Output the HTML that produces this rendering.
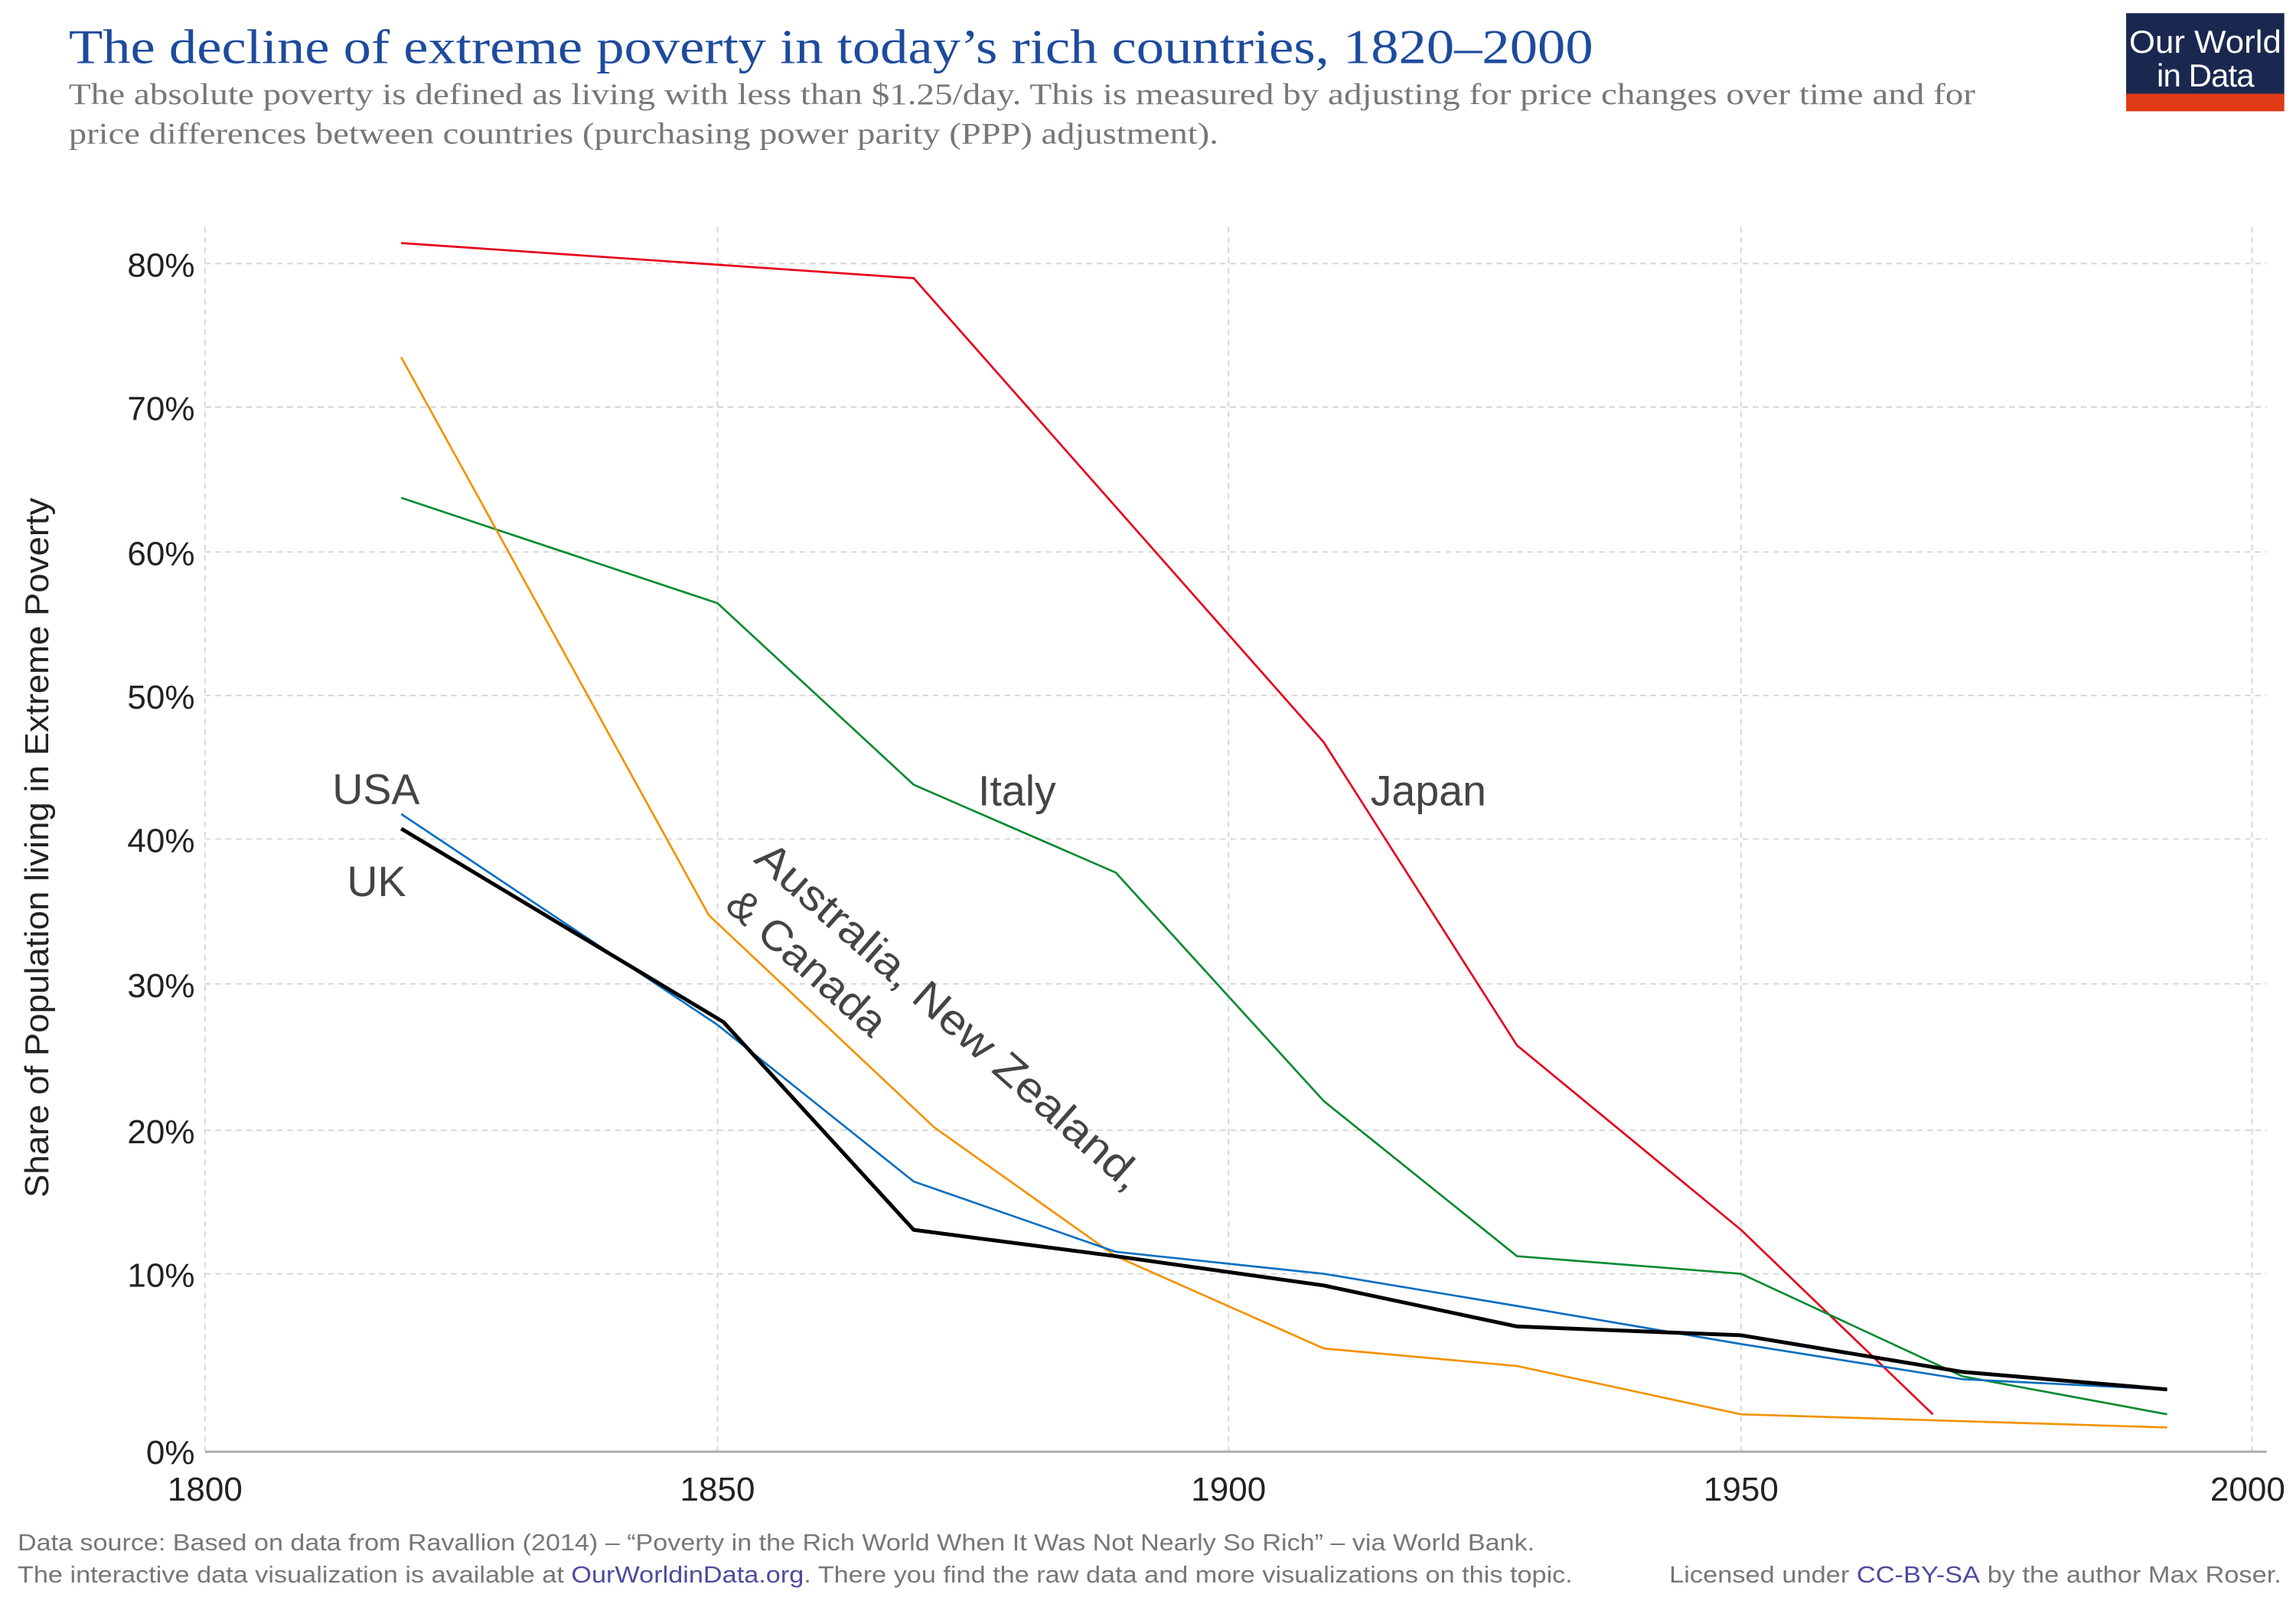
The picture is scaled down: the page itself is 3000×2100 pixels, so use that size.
<!DOCTYPE html>
<html><head><meta charset="utf-8"><style>
html,body{margin:0;padding:0;background:#fff;}
svg{display:block;}
</style></head><body>
<svg width="3000" height="2100" viewBox="0 0 1568 1097.6" xmlns="http://www.w3.org/2000/svg">
<rect width="1568" height="1097.6" fill="#fff"/>
<text x="47" y="43" font-family="Liberation Serif, serif" font-size="33" fill="#1d4b9c" textLength="1041" lengthAdjust="spacingAndGlyphs">The decline of extreme poverty in today’s rich countries, 1820–2000</text>
<text x="47" y="71" font-family="Liberation Serif, serif" font-size="20.5" fill="#777" textLength="1302" lengthAdjust="spacingAndGlyphs">The absolute poverty is defined as living with less than $1.25/day. This is measured by adjusting for price changes over time and for</text>
<text x="47" y="98" font-family="Liberation Serif, serif" font-size="20.5" fill="#777" textLength="785" lengthAdjust="spacingAndGlyphs">price differences between countries (purchasing power parity (PPP) adjustment).</text>
<rect x="1452" y="9" width="108" height="57" fill="#1a2850"/>
<rect x="1452" y="64" width="108" height="12" fill="#e03a16"/>
<text x="1506" y="36" text-anchor="middle" font-family="Liberation Sans, sans-serif" font-size="22" fill="#fff" textLength="104" lengthAdjust="spacingAndGlyphs">Our World</text>
<text x="1506" y="59" text-anchor="middle" font-family="Liberation Sans, sans-serif" font-size="22" fill="#fff" letter-spacing="-0.5">in Data</text>
<g stroke="#d6d6d6" stroke-width="1" stroke-dasharray="4,3" fill="none">
<line x1="140" y1="155" x2="140" y2="991"/><line x1="490" y1="155" x2="490" y2="991"/><line x1="839" y1="155" x2="839" y2="991"/><line x1="1189" y1="155" x2="1189" y2="991"/><line x1="1538" y1="155" x2="1538" y2="991"/>
<line x1="140" y1="180" x2="1548" y2="180"/><line x1="140" y1="278" x2="1548" y2="278"/><line x1="140" y1="377" x2="1548" y2="377"/><line x1="140" y1="475" x2="1548" y2="475"/><line x1="140" y1="573" x2="1548" y2="573"/><line x1="140" y1="672" x2="1548" y2="672"/><line x1="140" y1="772" x2="1548" y2="772"/><line x1="140" y1="870" x2="1548" y2="870"/>
</g>
<line x1="140" y1="991.5" x2="1548" y2="991.5" stroke="#aaa" stroke-width="1.5"/>
<g font-family="Liberation Sans, sans-serif" font-size="23" fill="#222" text-anchor="end">
<text x="133" y="189">80%</text><text x="133" y="287">70%</text><text x="133" y="386">60%</text><text x="133" y="484">50%</text><text x="133" y="582">40%</text><text x="133" y="681">30%</text><text x="133" y="781">20%</text><text x="133" y="879">10%</text><text x="133" y="1000">0%</text>
</g>
<g font-family="Liberation Sans, sans-serif" font-size="23" fill="#222" text-anchor="middle">
<text x="140" y="1025">1800</text><text x="490" y="1025">1850</text><text x="839" y="1025">1900</text><text x="1189" y="1025">1950</text><text x="1535" y="1025">2000</text>
</g>
<text transform="translate(33,579) rotate(-90)" text-anchor="middle" font-family="Liberation Sans, sans-serif" font-size="23" fill="#222" textLength="478" lengthAdjust="spacingAndGlyphs">Share of Population living in Extreme Poverty</text>
<g fill="none" stroke-linejoin="round">
<polyline stroke="#e5001c" stroke-width="1.4" points="274,166 624,190 904,507 1036,714 1189,840 1320,966"/>
<polyline stroke="#0a8a32" stroke-width="1.4" points="274,340 490,412 624,536 762,596 904,752 1036,858 1189,870 1340,940 1480,966"/>
<polyline stroke="#f39200" stroke-width="1.4" points="274,244 484,625 638,770 762,858 904,921 1036,933 1189,966 1480,975"/>
<polyline stroke="#0a6fbf" stroke-width="1.4" points="274,556 490,700 624,807 762,855 904,870 1036,892 1189,918 1340,942 1480,949"/>
<polyline stroke="#000" stroke-width="2.6" points="274,566 494,698 624,840 762,858 904,878 1036,906 1189,912 1340,937 1480,949"/>
</g>
<g font-family="Liberation Sans, sans-serif" font-size="29" fill="#444">
<text x="227" y="549">USA</text>
<text x="237" y="612">UK</text>
<text x="668" y="550">Italy</text>
<text x="936" y="550">Japan</text>
<text transform="translate(514,588) rotate(41.5)" textLength="342" lengthAdjust="spacingAndGlyphs">Australia, New Zealand,</text>
<text transform="translate(494,620) rotate(41.5)" textLength="135" lengthAdjust="spacingAndGlyphs">&amp; Canada</text>
</g>
<g font-family="Liberation Sans, sans-serif" font-size="16" fill="#777">
<text x="12" y="1059" textLength="1036" lengthAdjust="spacingAndGlyphs">Data source: Based on data from Ravallion (2014) – “Poverty in the Rich World When It Was Not Nearly So Rich” – via World Bank.</text>
<text x="12" y="1081" textLength="1062" lengthAdjust="spacingAndGlyphs">The interactive data visualization is available at <tspan fill="#4b4ba0">OurWorldinData.org</tspan>. There you find the raw data and more visualizations on this topic.</text>
<text x="1140" y="1081" textLength="418" lengthAdjust="spacingAndGlyphs">Licensed under <tspan fill="#4b4ba0">CC-BY-SA</tspan> by the author Max Roser.</text>
</g>
</svg>
</body></html>
